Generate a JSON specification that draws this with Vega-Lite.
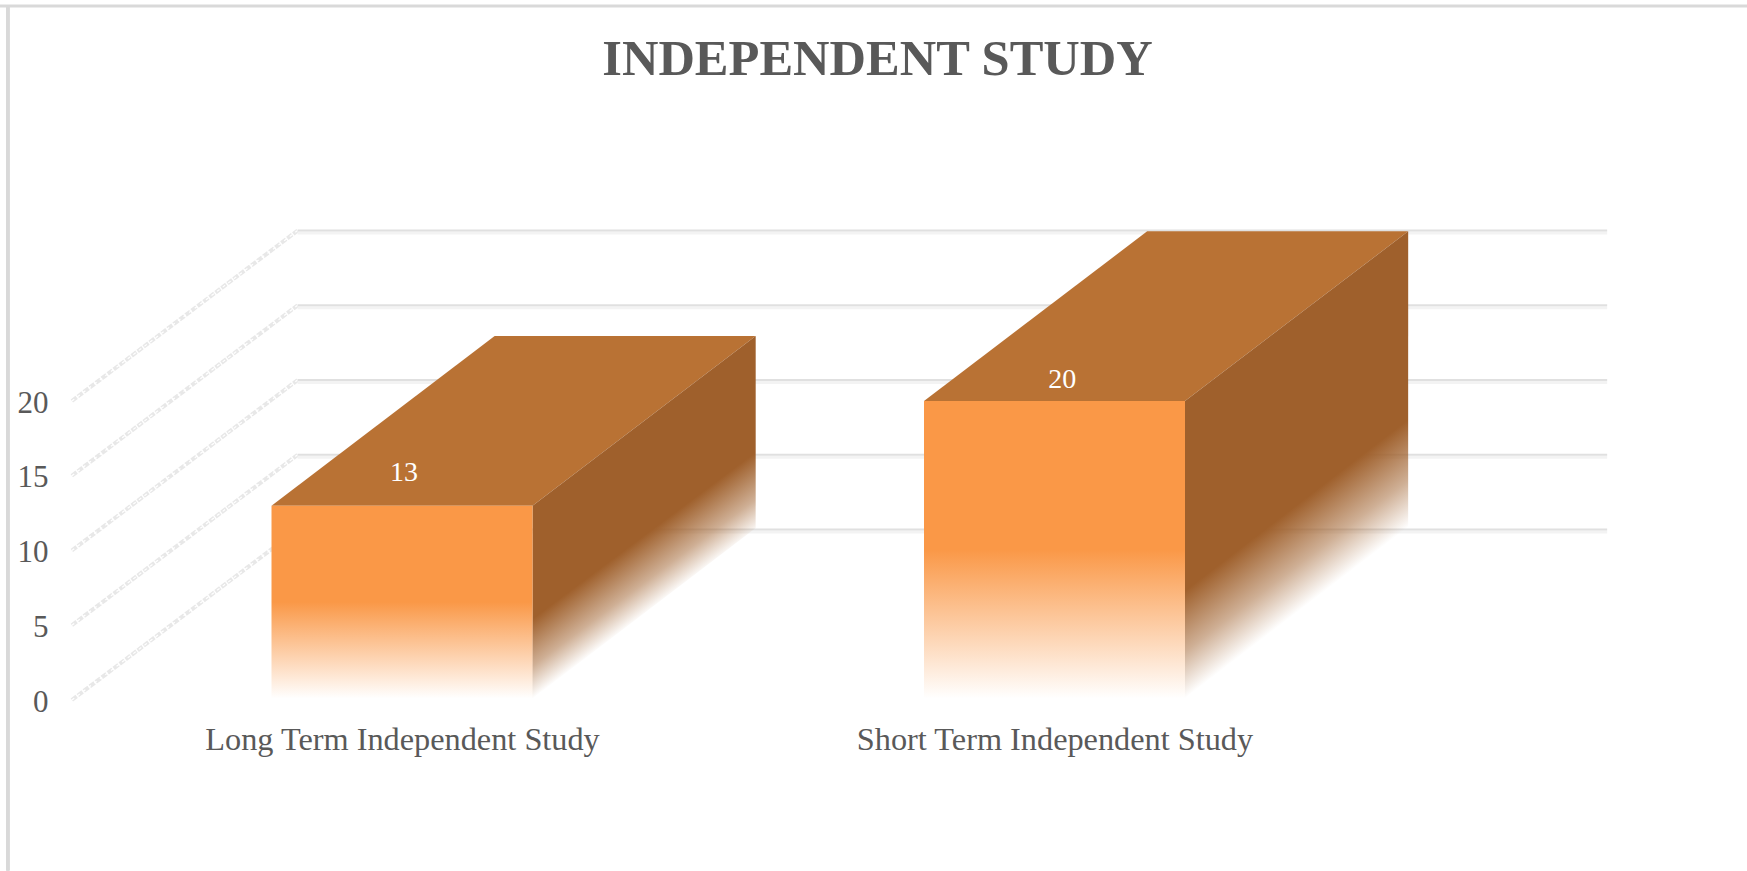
{
"$schema":"https://vega.github.io/schema/vega-lite/v6.json",
"width":1747,"height":871,"padding":0,"autosize":{"type":"none"},"background":"white",
"config":{"view":{"stroke":null}},
"title":{"text":"INDEPENDENT STUDY","font":"Liberation Serif","fontSize":50.5,"fontWeight":"bold","color":"#595959","anchor":"middle","frame":"group","offset":-85,"dx":4},
"datasets":{
"grid":[
{"level":0,"u0":-0.506,"u1":-0.16,"v0":0,"v1":11.4,"end":1.847},
{"level":5,"u0":-0.506,"u1":-0.16,"v0":5,"v1":16.4,"end":1.847},
{"level":10,"u0":-0.506,"u1":-0.16,"v0":10,"v1":21.4,"end":1.847},
{"level":15,"u0":-0.506,"u1":-0.16,"v0":15,"v1":26.4,"end":1.847},
{"level":20,"u0":-0.506,"u1":-0.16,"v0":20,"v1":31.4,"end":1.847}],
"front":[
{"category":"Long Term Independent Study","left":-0.2,"right":0.2,"value":13,"base":0.1},
{"category":"Short Term Independent Study","left":0.8,"right":1.2,"value":20,"base":0.1}],
"top":[
{"category":"Long Term Independent Study","v":13,"a":-0.2,"b":0.2},
{"category":"Long Term Independent Study","v":24.35,"a":0.142,"b":0.542},
{"category":"Short Term Independent Study","v":20,"a":0.8,"b":1.2},
{"category":"Short Term Independent Study","v":31.35,"a":1.142,"b":1.542}],
"side":[
{"category":"Long Term Independent Study","u":0.2,"hi":13,"lo":0.1},
{"category":"Long Term Independent Study","u":0.542,"hi":24.35,"lo":11.5},
{"category":"Short Term Independent Study","u":1.2,"hi":20,"lo":0.1},
{"category":"Short Term Independent Study","u":1.542,"hi":31.35,"lo":11.5}],
"labels":[
{"category":"Long Term Independent Study","value":13,"u":0.003,"at":15.2},
{"category":"Short Term Independent Study","value":20,"u":1.012,"at":21.4}]
},
"layer":[
{"data":{"name":"grid"},"mark":{"type":"rule","stroke":"#d9d9d9","strokeWidth":3},
 "encoding":{
  "x":{"datum":-0.604,"type":"quantitative","scale":{"domain":[-0.6161,2.0613],"nice":false,"zero":false},
   "axis":{"title":null,"orient":"bottom","offset":-148,"values":[0,1],"domain":false,"ticks":false,"grid":false,"labelPadding":0,"labelBaseline":"top","labelFont":"Liberation Serif","labelFontSize":32.3,"labelColor":"#595959","labelLimit":600,"labelFlush":false,"labelOverlap":false,
   "labelExpr":"datum.value==0?'Long Term Independent Study':'Short Term Independent Study'"}},
  "y":{"datum":-11.4,"type":"quantitative","scale":{"domain":[-11.438,46.823],"nice":false,"zero":false},
   "axis":{"title":null,"orient":"left","offset":-50,"values":[0,5,10,15,20],"domain":false,"ticks":false,"grid":false,"labelPadding":2,"labelOffset":2,"labelFont":"Liberation Serif","labelFontSize":31,"labelColor":"#595959","labelOverlap":false,"labelFlush":false}},
  "y2":{"datum":46.45}}},
{"data":{"name":"grid"},"mark":{"type":"rule","stroke":"#d9d9d9","strokeWidth":3},
 "transform":[{"filter":"datum.level==0"}],
 "encoding":{"x":{"datum":-0.6161,"type":"quantitative"},"x2":{"datum":2.0613},"y":{"datum":46.42,"type":"quantitative"}}},
{"data":{"name":"grid"},"mark":{"type":"rule","stroke":"#e8e8e8","strokeWidth":4,"strokeDash":[6,1.5]},
 "encoding":{"x":{"field":"u0","type":"quantitative"},"x2":{"field":"u1"},"y":{"field":"v0","type":"quantitative"},"y2":{"field":"v1"}}},
{"data":{"name":"grid"},"mark":{"type":"rule","stroke":"#ffffff","strokeWidth":1.2,"strokeDash":[3,4]},
 "encoding":{"x":{"field":"u0","type":"quantitative"},"x2":{"field":"u1"},"y":{"field":"v0","type":"quantitative"},"y2":{"field":"v1"}}},
{"data":{"name":"grid"},"mark":{"type":"rule","stroke":"#f3f3f3","strokeWidth":3,"yOffset":2.5},
 "encoding":{"x":{"field":"u1","type":"quantitative"},"x2":{"field":"end"},"y":{"field":"v1","type":"quantitative"}}},
{"data":{"name":"grid"},"mark":{"type":"rule","stroke":"#e0e0e0","strokeWidth":2},
 "encoding":{"x":{"field":"u1","type":"quantitative"},"x2":{"field":"end"},"y":{"field":"v1","type":"quantitative"}}},
{"data":{"name":"top"},"mark":{"type":"area","orient":"horizontal","color":"#b97234"},
 "encoding":{"detail":{"field":"category"},"y":{"field":"v","type":"quantitative"},"x":{"field":"a","type":"quantitative"},"x2":{"field":"b"}}},
{"data":{"name":"side"},"transform":[{"filter":"datum.category=='Long Term Independent Study'"}],
 "mark":{"type":"area","orient":"vertical","color":{"gradient":"linear","x1":0,"y1":0,"x2":0.38,"y2":0.826,"stops":[{"offset":0,"color":"#9f602c"},{"offset":0.78,"color":"#9f602c"},{"offset":0.91,"color":"rgba(159,96,44,0.5)"},{"offset":1,"color":"rgba(159,96,44,0)"}]}},
 "encoding":{"detail":{"field":"category"},"x":{"field":"u","type":"quantitative"},"y":{"field":"hi","type":"quantitative"},"y2":{"field":"lo"}}},
{"data":{"name":"side"},"transform":[{"filter":"datum.category=='Short Term Independent Study'"}],
 "mark":{"type":"area","orient":"vertical","color":{"gradient":"linear","x1":0,"y1":0,"x2":0.323,"y2":0.881,"stops":[{"offset":0,"color":"#9f602c"},{"offset":0.77,"color":"#9f602c"},{"offset":0.9,"color":"rgba(159,96,44,0.5)"},{"offset":1,"color":"rgba(159,96,44,0)"}]}},
 "encoding":{"detail":{"field":"category"},"x":{"field":"u","type":"quantitative"},"y":{"field":"hi","type":"quantitative"},"y2":{"field":"lo"}}},
{"data":{"name":"front"},"mark":{"type":"rect","color":{"gradient":"linear","x1":0,"y1":0,"x2":0,"y2":1,"stops":[{"offset":0,"color":"#fa9847"},{"offset":0.5,"color":"#fa9847"},{"offset":1,"color":"rgba(250,152,71,0)"}]}},
 "encoding":{"x":{"field":"left","type":"quantitative"},"x2":{"field":"right"},"y":{"field":"value","type":"quantitative"},"y2":{"field":"base"}}},
{"data":{"name":"labels"},"mark":{"type":"text","font":"Liberation Serif","fontSize":28,"color":"white"},
 "encoding":{"x":{"field":"u","type":"quantitative"},"y":{"field":"at","type":"quantitative"},"text":{"field":"value","type":"quantitative"}}}
]
}
